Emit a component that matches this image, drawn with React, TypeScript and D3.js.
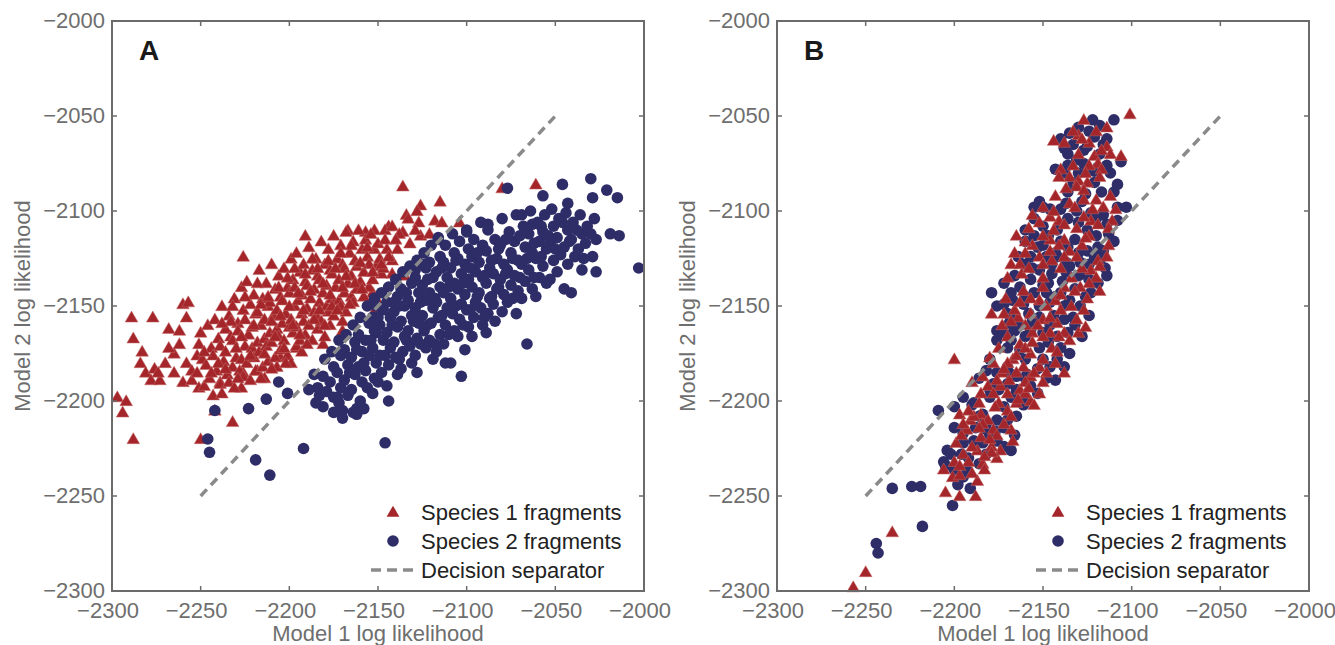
import * as d3 from 'd3'

const W = 1335, H = 645
const PW = 532, TOP = 21, BOTTOM = 591
const DOMAIN = [-2300, -2000]
const TICKS = [-2300, -2250, -2200, -2150, -2100, -2050, -2000]
const SEPARATOR = [[-2250, -2250], [-2050, -2050]]
const LEGEND = ['Species 1 fragments', 'Species 2 fragments', 'Decision separator']
const X_LABEL = 'Model 1 log likelihood'
const Y_LABEL = 'Model 2 log likelihood'

const RED = '#a4262b'
const BLUE = '#2e2d68'
const AXIS = '#6b6b6b'
const FONT = '"Liberation Sans", Arial, Helvetica, sans-serif'

// Panel A, species 1 (triangles)
const RED_A = [
  [-2297, -2198], [-2292, -2200], [-2294, -2206], [-2288, -2220], [-2289, -2156], [-2277, -2156],
  [-2288, -2167], [-2283, -2174], [-2284, -2180], [-2281, -2185], [-2276, -2183], [-2278, -2189],
  [-2273, -2189], [-2274, -2185], [-2268, -2162], [-2260, -2149], [-2257, -2148], [-2258, -2156],
  [-2265, -2175], [-2262, -2170], [-2258, -2180], [-2265, -2185], [-2255, -2184], [-2252, -2176],
  [-2260, -2190], [-2255, -2189], [-2251, -2193], [-2242, -2205], [-2250, -2220], [-2232, -2211],
  [-2239, -2190], [-2227, -2193], [-2226, -2124], [-2191, -2113], [-2136, -2087], [-2126, -2097],
  [-2115, -2095], [-2134, -2102], [-2127, -2106], [-2118, -2105], [-2114, -2106], [-2080, -2088],
  [-2061, -2086], [-2104, -2106], [-2167, -2110], [-2157, -2111], [-2152, -2110], [-2144, -2108],
  [-2136, -2111], [-2126, -2113], [-2121, -2112], [-2150, -2152], [-2170, -2163], [-2181, -2170],
  [-2129, -2127], [-2151, -2151], [-2153, -2143], [-2142, -2126], [-2142, -2133], [-2151, -2129],
  [-2135, -2134], [-2196, -2172], [-2205, -2177], [-2218, -2184], [-2226, -2185], [-2268, -2172],
  [-2270, -2180], [-2262, -2163],
  [-2251, -2170], [-2249, -2178], [-2252, -2185], [-2248, -2192], [-2250, -2164],
  [-2246, -2160], [-2244, -2172], [-2247, -2181], [-2245, -2188], [-2243, -2197],
  [-2242, -2157], [-2240, -2167], [-2243, -2176], [-2241, -2184], [-2239, -2191],
  [-2238, -2150], [-2236, -2162], [-2239, -2171], [-2237, -2179], [-2235, -2186], [-2238, -2196],
  [-2234, -2155], [-2233, -2166], [-2236, -2174], [-2232, -2182], [-2234, -2190],
  [-2231, -2146], [-2229, -2159], [-2232, -2168], [-2230, -2177], [-2228, -2184], [-2231, -2193],
  [-2227, -2140], [-2226, -2152], [-2229, -2163], [-2225, -2171], [-2227, -2178], [-2226, -2187],
  [-2224, -2137], [-2222, -2149], [-2225, -2157], [-2223, -2165], [-2221, -2172], [-2224, -2180], [-2222, -2189],
  [-2220, -2144], [-2219, -2154], [-2221, -2161], [-2218, -2169], [-2220, -2177], [-2219, -2184],
  [-2217, -2131], [-2215, -2146], [-2218, -2153], [-2216, -2160], [-2214, -2167], [-2217, -2174], [-2215, -2182],
  [-2213, -2138], [-2212, -2150], [-2214, -2157], [-2211, -2164], [-2213, -2171], [-2212, -2179], [-2214, -2188],
  [-2210, -2128], [-2208, -2141], [-2211, -2148], [-2209, -2155], [-2207, -2162], [-2210, -2169], [-2208, -2177],
  [-2206, -2134], [-2205, -2145], [-2207, -2152], [-2204, -2159], [-2206, -2166], [-2205, -2173], [-2207, -2182],
  [-2203, -2130], [-2201, -2140], [-2204, -2147], [-2202, -2154], [-2200, -2161], [-2203, -2168], [-2201, -2176],
  [-2199, -2125], [-2198, -2136], [-2200, -2143], [-2197, -2150], [-2199, -2157], [-2198, -2164], [-2196, -2171], [-2199, -2180],
  [-2196, -2122], [-2194, -2132], [-2197, -2140], [-2195, -2147], [-2193, -2154], [-2196, -2161], [-2194, -2168],
  [-2192, -2128], [-2191, -2137], [-2193, -2144], [-2190, -2151], [-2192, -2158], [-2191, -2165], [-2193, -2174],
  [-2189, -2119], [-2187, -2131], [-2190, -2139], [-2188, -2146], [-2186, -2153], [-2189, -2160], [-2187, -2168],
  [-2185, -2125], [-2184, -2134], [-2186, -2141], [-2183, -2148], [-2185, -2155], [-2184, -2162],
  [-2182, -2116], [-2180, -2128], [-2183, -2136], [-2181, -2143], [-2179, -2150], [-2182, -2158], [-2180, -2166],
  [-2178, -2120], [-2177, -2131], [-2179, -2139], [-2176, -2146], [-2178, -2153], [-2177, -2160],
  [-2175, -2113], [-2173, -2125], [-2176, -2133], [-2174, -2140], [-2172, -2147], [-2175, -2155],
  [-2171, -2118], [-2170, -2128], [-2172, -2136], [-2169, -2143], [-2171, -2150], [-2170, -2158],
  [-2168, -2111], [-2166, -2122], [-2169, -2130], [-2167, -2138], [-2165, -2145], [-2168, -2153],
  [-2164, -2116], [-2163, -2126], [-2165, -2134], [-2162, -2141], [-2164, -2148],
  [-2161, -2110], [-2159, -2120], [-2162, -2129], [-2160, -2137], [-2158, -2145],
  [-2157, -2115], [-2156, -2124], [-2158, -2132], [-2155, -2140],
  [-2154, -2112], [-2152, -2120], [-2155, -2128], [-2153, -2136], [-2151, -2146],
  [-2150, -2117], [-2149, -2125], [-2148, -2133],
  [-2146, -2110], [-2145, -2120], [-2147, -2130],
  [-2142, -2108], [-2138, -2112], [-2139, -2120], [-2133, -2104], [-2132, -2117], [-2128, -2100], [-2129, -2110],
  [-2240, -2180], [-2236, -2183], [-2233, -2158], [-2230, -2172], [-2227, -2166], [-2225, -2145],
  [-2222, -2176], [-2220, -2160], [-2218, -2138], [-2216, -2149], [-2214, -2175], [-2212, -2145],
  [-2210, -2158], [-2208, -2166], [-2206, -2140], [-2205, -2155], [-2203, -2172], [-2201, -2135],
  [-2200, -2150], [-2198, -2160], [-2197, -2130], [-2195, -2143], [-2194, -2165], [-2192, -2152],
  [-2191, -2133], [-2190, -2170], [-2188, -2142], [-2187, -2125], [-2186, -2157], [-2184, -2130],
  [-2183, -2152], [-2181, -2138], [-2180, -2160], [-2178, -2126], [-2177, -2144], [-2176, -2150],
  [-2174, -2130], [-2173, -2152], [-2171, -2122], [-2170, -2140], [-2168, -2134], [-2166, -2149],
  [-2165, -2118], [-2163, -2138], [-2160, -2127], [-2159, -2141], [-2156, -2119], [-2153, -2132],
  [-2148, -2128], [-2146, -2115], [-2144, -2124], [-2140, -2115], [-2244, -2185], [-2248, -2174],
  [-2238, -2159], [-2232, -2150], [-2229, -2188], [-2216, -2188], [-2210, -2183], [-2202, -2180],
]

// Panel A, species 2 (circles)
const BLUE_A = [
  [-2186, -2186], [-2184, -2193], [-2185, -2201],
  [-2180, -2178], [-2181, -2187], [-2179, -2195], [-2181, -2203],
  [-2176, -2174], [-2175, -2182], [-2177, -2190], [-2175, -2198],
  [-2172, -2168], [-2171, -2176], [-2173, -2185], [-2171, -2193], [-2172, -2201],
  [-2168, -2165], [-2169, -2173], [-2167, -2181], [-2169, -2189], [-2167, -2197],
  [-2164, -2160], [-2163, -2169], [-2165, -2177], [-2163, -2186], [-2165, -2194], [-2164, -2206],
  [-2160, -2156], [-2161, -2165], [-2159, -2174], [-2161, -2182], [-2159, -2190], [-2160, -2200],
  [-2156, -2150], [-2155, -2159], [-2157, -2168], [-2155, -2176], [-2157, -2184], [-2156, -2193],
  [-2152, -2146], [-2153, -2156], [-2151, -2164], [-2153, -2172], [-2151, -2180], [-2152, -2188], [-2153, -2196],
  [-2148, -2143], [-2147, -2152], [-2149, -2160], [-2147, -2168], [-2149, -2176], [-2148, -2185],
  [-2144, -2140], [-2145, -2148], [-2143, -2156], [-2145, -2164], [-2143, -2172], [-2144, -2181], [-2145, -2192],
  [-2140, -2136], [-2139, -2145], [-2141, -2153], [-2139, -2161], [-2141, -2169], [-2140, -2177], [-2139, -2186],
  [-2136, -2132], [-2137, -2141], [-2135, -2150], [-2137, -2158], [-2135, -2166], [-2136, -2174], [-2137, -2183],
  [-2132, -2129], [-2131, -2138], [-2133, -2147], [-2131, -2155], [-2133, -2163], [-2132, -2171], [-2131, -2180],
  [-2128, -2126], [-2129, -2135], [-2127, -2143], [-2129, -2151], [-2127, -2159], [-2128, -2167], [-2129, -2176],
  [-2124, -2122], [-2123, -2130], [-2125, -2139], [-2123, -2147], [-2125, -2155], [-2124, -2163], [-2123, -2172],
  [-2120, -2118], [-2121, -2127], [-2119, -2135], [-2121, -2143], [-2119, -2151], [-2120, -2159], [-2121, -2168], [-2119, -2178],
  [-2116, -2115], [-2115, -2124], [-2117, -2132], [-2115, -2140], [-2117, -2148], [-2116, -2156], [-2115, -2165], [-2117, -2174],
  [-2112, -2118], [-2113, -2127], [-2111, -2135], [-2113, -2143], [-2111, -2151], [-2112, -2160], [-2113, -2170],
  [-2108, -2112], [-2107, -2122], [-2109, -2130], [-2107, -2138], [-2109, -2146], [-2108, -2154], [-2107, -2163], [-2109, -2180],
  [-2104, -2116], [-2105, -2125], [-2103, -2133], [-2105, -2141], [-2103, -2149], [-2104, -2157], [-2105, -2166],
  [-2100, -2110], [-2099, -2120], [-2101, -2128], [-2099, -2136], [-2101, -2144], [-2100, -2152], [-2099, -2161], [-2101, -2173],
  [-2096, -2115], [-2097, -2124], [-2095, -2132], [-2097, -2140], [-2095, -2148], [-2096, -2156], [-2097, -2166],
  [-2092, -2106], [-2091, -2118], [-2093, -2127], [-2091, -2135], [-2093, -2143], [-2092, -2151], [-2091, -2160],
  [-2088, -2110], [-2089, -2121], [-2087, -2130], [-2089, -2138], [-2087, -2146], [-2088, -2154], [-2089, -2164],
  [-2084, -2115], [-2083, -2125], [-2085, -2133], [-2083, -2141], [-2085, -2149], [-2084, -2158],
  [-2080, -2104], [-2081, -2118], [-2079, -2128], [-2081, -2136], [-2079, -2144], [-2080, -2153],
  [-2076, -2111], [-2075, -2122], [-2077, -2131], [-2075, -2139], [-2077, -2148],
  [-2072, -2102], [-2073, -2116], [-2071, -2126], [-2073, -2134], [-2071, -2142], [-2072, -2154],
  [-2068, -2108], [-2067, -2119], [-2069, -2128], [-2067, -2137], [-2069, -2146],
  [-2064, -2100], [-2065, -2112], [-2063, -2122], [-2065, -2131], [-2063, -2141],
  [-2060, -2106], [-2059, -2116], [-2061, -2125], [-2059, -2135], [-2061, -2145],
  [-2056, -2102], [-2057, -2111], [-2055, -2120], [-2057, -2129], [-2055, -2138],
  [-2052, -2099], [-2051, -2108], [-2053, -2117], [-2051, -2126], [-2053, -2136],
  [-2048, -2104], [-2049, -2114], [-2047, -2123], [-2049, -2132],
  [-2044, -2101], [-2043, -2110], [-2045, -2119], [-2043, -2128], [-2045, -2141],
  [-2040, -2106], [-2041, -2115], [-2039, -2124],
  [-2036, -2102], [-2035, -2112], [-2037, -2120], [-2035, -2131],
  [-2032, -2108], [-2033, -2117],
  [-2028, -2104], [-2027, -2115], [-2029, -2124],
  [-2046, -2086], [-2030, -2083], [-2021, -2089], [-2015, -2093], [-2077, -2088], [-2057, -2092],
  [-2043, -2096], [-2029, -2093], [-2003, -2130], [-2019, -2112], [-2014, -2113], [-2027, -2132],
  [-2041, -2143], [-2066, -2170], [-2103, -2187], [-2162, -2207], [-2146, -2222], [-2219, -2231],
  [-2211, -2239], [-2192, -2225], [-2246, -2220], [-2245, -2227], [-2242, -2205], [-2223, -2204],
  [-2213, -2199], [-2206, -2190], [-2201, -2196], [-2189, -2194], [-2183, -2197], [-2173, -2198],
  [-2170, -2205], [-2170, -2209], [-2162, -2204], [-2116, -2114], [-2124, -2128], [-2129, -2131],
  [-2141, -2148], [-2151, -2150], [-2152, -2163], [-2088, -2107], [-2069, -2102], [-2063, -2107],
  [-2100, -2111],
  [-2166, -2185], [-2162, -2173], [-2158, -2180], [-2154, -2168], [-2150, -2190], [-2150, -2156],
  [-2146, -2176], [-2142, -2160], [-2138, -2150], [-2138, -2178], [-2134, -2143], [-2134, -2168],
  [-2130, -2158], [-2126, -2148], [-2126, -2170], [-2122, -2136], [-2122, -2160], [-2118, -2146],
  [-2118, -2170], [-2114, -2130], [-2114, -2155], [-2110, -2140], [-2110, -2165], [-2106, -2126],
  [-2106, -2150], [-2102, -2138], [-2102, -2160], [-2098, -2130], [-2098, -2152], [-2094, -2122],
  [-2094, -2145], [-2090, -2134], [-2090, -2156], [-2086, -2126], [-2086, -2145], [-2082, -2120],
  [-2082, -2140], [-2078, -2133], [-2078, -2115], [-2074, -2125], [-2074, -2146], [-2070, -2113],
  [-2070, -2135], [-2066, -2125], [-2062, -2117], [-2062, -2135], [-2058, -2108], [-2058, -2124],
  [-2054, -2113], [-2050, -2120], [-2046, -2106], [-2042, -2116], [-2038, -2110], [-2034, -2125],
  [-2030, -2112], [-2175, -2206], [-2158, -2204], [-2144, -2200], [-2128, -2185], [-2112, -2180],
]

// Panel B, species 1 (triangles)
const RED_B = [
  [-2101, -2049], [-2127, -2052], [-2114, -2056], [-2144, -2063], [-2130, -2060], [-2114, -2066],
  [-2121, -2071], [-2119, -2075], [-2106, -2071], [-2117, -2078], [-2140, -2078], [-2135, -2082],
  [-2130, -2084], [-2125, -2085], [-2131, -2087], [-2127, -2089], [-2156, -2102], [-2135, -2096],
  [-2127, -2094], [-2120, -2094], [-2111, -2105], [-2123, -2105], [-2119, -2107], [-2141, -2105],
  [-2138, -2107], [-2165, -2113], [-2166, -2122], [-2160, -2122], [-2168, -2128], [-2163, -2128],
  [-2170, -2135], [-2162, -2133], [-2146, -2115], [-2138, -2115], [-2135, -2121], [-2146, -2121],
  [-2119, -2126], [-2123, -2131], [-2118, -2129], [-2179, -2154], [-2172, -2154], [-2164, -2156],
  [-2157, -2154], [-2148, -2150], [-2150, -2157], [-2142, -2159], [-2146, -2164], [-2138, -2164],
  [-2135, -2168], [-2130, -2164], [-2156, -2164], [-2163, -2170], [-2157, -2175], [-2167, -2178],
  [-2200, -2178], [-2180, -2177], [-2138, -2185], [-2184, -2187], [-2181, -2192], [-2174, -2192],
  [-2169, -2189], [-2163, -2194], [-2157, -2200], [-2155, -2202], [-2161, -2182], [-2157, -2187],
  [-2152, -2182], [-2148, -2185], [-2185, -2196], [-2197, -2207], [-2191, -2210], [-2185, -2207],
  [-2181, -2210], [-2193, -2215], [-2185, -2219], [-2178, -2215], [-2168, -2215], [-2167, -2221],
  [-2174, -2226], [-2179, -2224], [-2199, -2222], [-2187, -2226], [-2195, -2228], [-2176, -2230],
  [-2205, -2248], [-2188, -2250], [-2197, -2250], [-2235, -2269], [-2250, -2290], [-2257, -2298],
  [-2201, -2240], [-2197, -2239], [-2187, -2242], [-2195, -2212], [-2189, -2208], [-2184, -2233],
  [-2179, -2227], [-2150, -2140], [-2138, -2140], [-2143, -2147], [-2152, -2147], [-2129, -2140],
  [-2133, -2058], [-2120, -2058], [-2124, -2064], [-2138, -2064], [-2130, -2070], [-2112, -2070],
  [-2133, -2076], [-2124, -2076], [-2118, -2082], [-2141, -2082], [-2143, -2092], [-2112, -2092],
  [-2150, -2098], [-2132, -2098], [-2116, -2098], [-2146, -2103], [-2127, -2103], [-2158, -2109],
  [-2131, -2109], [-2113, -2109], [-2150, -2113], [-2124, -2113], [-2156, -2118], [-2141, -2118],
  [-2128, -2118], [-2152, -2124], [-2131, -2124], [-2114, -2124], [-2158, -2130], [-2140, -2130],
  [-2128, -2130], [-2150, -2135], [-2134, -2135], [-2120, -2135], [-2161, -2142], [-2132, -2142],
  [-2118, -2142], [-2171, -2146], [-2157, -2146], [-2125, -2146], [-2166, -2152], [-2140, -2152],
  [-2127, -2152], [-2173, -2160], [-2160, -2160], [-2153, -2160], [-2170, -2166], [-2150, -2166],
  [-2141, -2166], [-2175, -2172], [-2160, -2172], [-2145, -2172], [-2178, -2180], [-2170, -2180],
  [-2143, -2180], [-2173, -2185], [-2165, -2185], [-2155, -2185], [-2190, -2190], [-2160, -2190],
  [-2150, -2190], [-2178, -2196], [-2170, -2196], [-2160, -2196], [-2186, -2201], [-2175, -2201],
  [-2165, -2201], [-2192, -2205], [-2170, -2205], [-2184, -2212], [-2172, -2212], [-2196, -2218],
  [-2176, -2218], [-2192, -2232], [-2200, -2232], [-2183, -2236], [-2206, -2236],
  [-2128, -2062], [-2117, -2068], [-2126, -2080], [-2137, -2088], [-2122, -2099], [-2144, -2100],
  [-2152, -2106], [-2126, -2114], [-2160, -2116], [-2145, -2126], [-2124, -2138], [-2140, -2144],
  [-2163, -2148], [-2134, -2150], [-2168, -2158], [-2146, -2156], [-2156, -2169], [-2142, -2174],
  [-2165, -2176], [-2150, -2178], [-2172, -2183], [-2158, -2193], [-2177, -2203], [-2168, -2208],
  [-2186, -2214], [-2180, -2220], [-2190, -2224], [-2183, -2229], [-2197, -2234], [-2190, -2238],
  [-2152, -2196], [-2164, -2199], [-2131, -2157], [-2126, -2161], [-2176, -2189], [-2113, -2118],
  [-2109, -2099], [-2150, -2128], [-2138, -2124], [-2144, -2110],
]

// Panel B, species 2 (circles)
const BLUE_B = [
  [-2118, -2055], [-2135, -2059], [-2124, -2058], [-2121, -2061], [-2138, -2067], [-2133, -2065],
  [-2127, -2068], [-2125, -2066], [-2106, -2074], [-2143, -2078], [-2136, -2076], [-2127, -2075],
  [-2125, -2079], [-2121, -2079], [-2119, -2077], [-2108, -2086], [-2121, -2085], [-2155, -2098],
  [-2150, -2098], [-2146, -2099], [-2140, -2099], [-2108, -2098], [-2103, -2098], [-2123, -2101],
  [-2116, -2102], [-2131, -2100], [-2108, -2105], [-2153, -2119], [-2157, -2124], [-2148, -2124],
  [-2132, -2115], [-2125, -2121], [-2119, -2119], [-2116, -2121], [-2121, -2124], [-2118, -2126],
  [-2150, -2108], [-2168, -2143], [-2179, -2143], [-2163, -2140], [-2157, -2136], [-2155, -2143],
  [-2148, -2143], [-2140, -2143], [-2135, -2147], [-2129, -2150], [-2123, -2143], [-2133, -2156],
  [-2176, -2163], [-2172, -2164], [-2168, -2168], [-2176, -2168], [-2158, -2154], [-2152, -2156],
  [-2157, -2163], [-2150, -2164], [-2136, -2164], [-2135, -2175], [-2142, -2178], [-2138, -2182],
  [-2182, -2184], [-2176, -2185], [-2178, -2191], [-2170, -2191], [-2165, -2187], [-2157, -2192],
  [-2153, -2196], [-2209, -2205], [-2189, -2201], [-2184, -2207], [-2182, -2212], [-2176, -2210],
  [-2170, -2210], [-2165, -2208], [-2195, -2217], [-2189, -2221], [-2184, -2222], [-2176, -2221],
  [-2172, -2224], [-2168, -2226], [-2204, -2226], [-2202, -2228], [-2206, -2232], [-2205, -2234],
  [-2191, -2246], [-2201, -2255], [-2235, -2246], [-2224, -2245], [-2219, -2245], [-2218, -2266],
  [-2244, -2275], [-2243, -2280], [-2190, -2202], [-2195, -2222], [-2182, -2215], [-2167, -2147],
  [-2172, -2149], [-2169, -2159], [-2161, -2149], [-2152, -2131], [-2145, -2133], [-2139, -2137],
  [-2135, -2129], [-2128, -2133], [-2142, -2124], [-2137, -2127], [-2113, -2112], [-2110, -2090],
  [-2122, -2052], [-2110, -2052], [-2114, -2062], [-2140, -2062], [-2136, -2070], [-2118, -2070],
  [-2130, -2080], [-2112, -2080], [-2138, -2080], [-2136, -2090], [-2117, -2090], [-2128, -2095],
  [-2152, -2095], [-2136, -2104], [-2155, -2104], [-2120, -2104], [-2142, -2110], [-2125, -2110],
  [-2160, -2110], [-2160, -2116], [-2140, -2116], [-2110, -2116], [-2143, -2122], [-2130, -2122],
  [-2160, -2128], [-2145, -2128], [-2124, -2128], [-2166, -2134], [-2130, -2134], [-2114, -2134],
  [-2172, -2138], [-2147, -2138], [-2119, -2138], [-2160, -2145], [-2143, -2145], [-2126, -2145],
  [-2176, -2150], [-2152, -2150], [-2138, -2150], [-2166, -2155], [-2144, -2155], [-2124, -2155],
  [-2164, -2160], [-2146, -2160], [-2132, -2160], [-2160, -2166], [-2142, -2166], [-2128, -2166],
  [-2170, -2172], [-2152, -2172], [-2140, -2172], [-2180, -2178], [-2160, -2178], [-2150, -2178],
  [-2170, -2182], [-2146, -2182], [-2186, -2188], [-2160, -2188], [-2148, -2188], [-2175, -2194],
  [-2165, -2194], [-2195, -2198], [-2180, -2198], [-2168, -2198], [-2160, -2198], [-2200, -2203],
  [-2172, -2203], [-2200, -2214], [-2188, -2214], [-2172, -2214], [-2180, -2218], [-2166, -2218],
  [-2196, -2228], [-2182, -2228], [-2193, -2236], [-2200, -2236], [-2195, -2240],
  [-2130, -2056], [-2116, -2065], [-2131, -2073], [-2114, -2076], [-2133, -2085], [-2126, -2091],
  [-2137, -2096], [-2114, -2107], [-2130, -2106], [-2147, -2113], [-2120, -2113], [-2155, -2113],
  [-2136, -2119], [-2164, -2124], [-2150, -2118], [-2129, -2127], [-2156, -2130], [-2137, -2132],
  [-2146, -2148], [-2132, -2141], [-2170, -2154], [-2156, -2158], [-2138, -2157], [-2166, -2163],
  [-2147, -2169], [-2163, -2173], [-2153, -2183], [-2168, -2186], [-2180, -2194], [-2159, -2186],
  [-2186, -2208], [-2177, -2216], [-2192, -2230], [-2186, -2233], [-2198, -2244], [-2161, -2202],
  [-2143, -2189], [-2124, -2136], [-2115, -2130], [-2150, -2139],
]

const tickFmt = d3.format('d')
const triangle = d3.symbol(d3.symbolTriangle, 70)()

function Panel({ left, tag, red, blue, redOnTop }) {
  const right = left + PW
  const x = d3.scaleLinear().domain(DOMAIN).range([left, right])
  const y = d3.scaleLinear().domain(DOMAIN).range([BOTTOM, TOP])
  const sep = d3.line().x(d => x(d[0])).y(d => y(d[1]))(SEPARATOR)

  const reds = red.map((d, i) => (
    <path key={'r' + i} d={triangle} transform={`translate(${x(d[0])},${y(d[1]) + 1})`}
      fill={RED} stroke="#c46a66" strokeWidth={0.5} />
  ))
  const blues = blue.map((d, i) => (
    <circle key={'b' + i} cx={x(d[0])} cy={y(d[1])} r={5.8} fill={BLUE} />
  ))

  const lx = right - 251, tx = right - 223
  const rows = [512, 541, 570]

  return (
    <g fontFamily={FONT}>
      {redOnTop ? blues : reds}
      {redOnTop ? reds : blues}
      <path d={sep} stroke="#8a8a8a" strokeWidth={3.5} strokeDasharray="9 6" fill="none" />

      <rect x={left} y={TOP} width={PW} height={BOTTOM - TOP} fill="none" stroke={AXIS} strokeWidth={2} />
      {TICKS.map(t => (
        <g key={t} stroke={AXIS} strokeWidth={1.5}>
          <line x1={x(t)} x2={x(t)} y1={BOTTOM} y2={BOTTOM - 5} />
          <line x1={x(t)} x2={x(t)} y1={TOP} y2={TOP + 5} />
          <line x1={left} x2={left + 5} y1={y(t)} y2={y(t)} />
          <line x1={right} x2={right - 5} y1={y(t)} y2={y(t)} />
        </g>
      ))}
      {TICKS.map(t => (
        <text key={'yl' + t} x={left - 7} y={y(t)} dy="0.33em" textAnchor="end" fontSize={22} fill="#6e6e6e">
          {tickFmt(t)}
        </text>
      ))}
      {TICKS.map(t => (
        <text key={'xl' + t} x={x(t) - 4} y={618} textAnchor="middle" fontSize={22} fill="#6e6e6e">
          {tickFmt(t)}
        </text>
      ))}
      <text x={(left + right) / 2} y={641} textAnchor="middle" fontSize={22} fill="#6e6e6e">{X_LABEL}</text>
      <text transform={`translate(${left - 82},${(TOP + BOTTOM) / 2}) rotate(-90)`} textAnchor="middle"
        fontSize={22} fill="#6e6e6e">{Y_LABEL}</text>

      <text x={left + 27} y={60} fontSize={28} fontWeight="bold" fill="#1a1a1a">{tag}</text>

      <path d={triangle} transform={`translate(${lx},${rows[0] + 1})`} fill={RED} />
      <circle cx={lx} cy={rows[1]} r={5.8} fill={BLUE} />
      <line x1={right - 273} x2={right - 227} y1={rows[2]} y2={rows[2]} stroke="#8a8a8a"
        strokeWidth={3.5} strokeDasharray="10 6" />
      {LEGEND.map((s, i) => (
        <text key={s} x={tx} y={rows[i] + 8} fontSize={22} fill="#222">{s}</text>
      ))}
    </g>
  )
}

export default function App() {
  return (
    <svg width={W} height={H} style={{ position: 'absolute', left: 0, top: 0, background: '#fff' }}>
      <rect width={W} height={H} fill="#fff" />
      <Panel left={112} tag="A" red={RED_A} blue={BLUE_A} redOnTop={false} />
      <Panel left={777} tag="B" red={RED_B} blue={BLUE_B} redOnTop={true} />
    </svg>
  )
}
